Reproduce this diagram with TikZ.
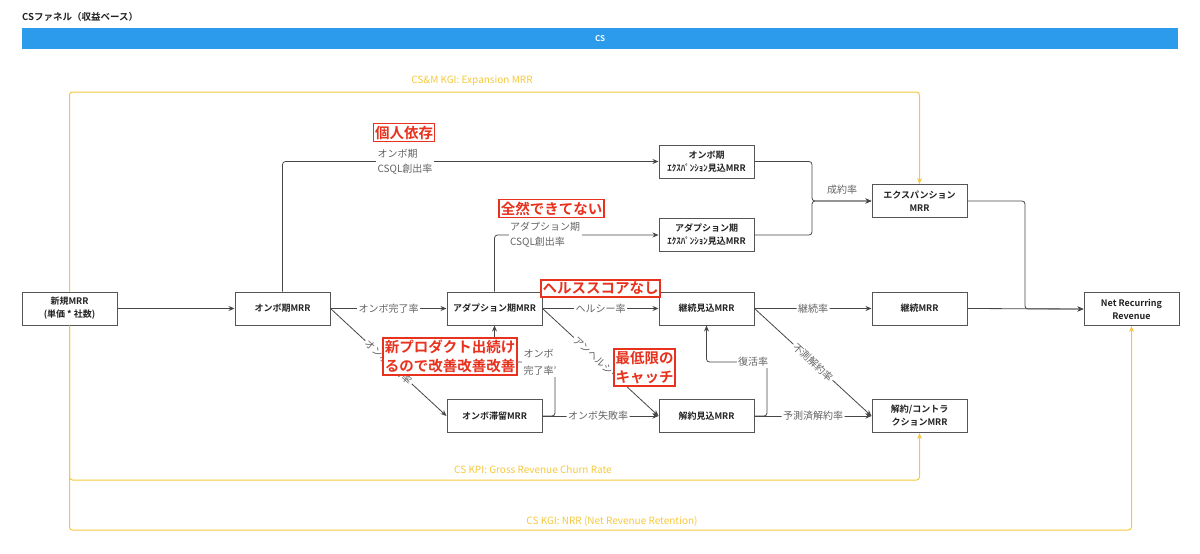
\documentclass[tikz,border=0pt]{standalone}
\usepackage{fontspec}
\setmainfont{Noto Sans CJK JP}[BoldFont={Noto Sans CJK JP Bold}]
\usetikzlibrary{arrows.meta}
\definecolor{cblue}{RGB}{45,155,235}
\definecolor{cyel}{RGB}{245,200,60}
\definecolor{cred}{RGB}{232,50,30}
\definecolor{cline}{RGB}{70,70,70}
\definecolor{cbox}{RGB}{85,85,85}
\definecolor{clab}{RGB}{100,100,100}
\definecolor{ctext}{RGB}{34,34,34}
\begin{document}
\begin{tikzpicture}[x=1pt,y=1pt,
 mrr/.style={draw=cbox, line width=1pt, fill=white, minimum width=95pt, minimum height=33pt, inner sep=1pt, align=center, font=\bfseries\fontsize{9}{13}\selectfont, text=ctext},
 conn/.style={draw=cline, line width=0.8pt, rounded corners=3pt},
 arr/.style={conn, -{Stealth[length=6pt,width=5pt]}},
 lab/.style={fill=white, inner sep=1.5pt, text=clab, font=\fontsize{10}{15}\selectfont},
 note/.style={draw=cred, line width=1.6pt, fill=white, text=cred, inner xsep=1.5pt, inner ysep=2.2pt, align=left, font=\bfseries\fontsize{14.5}{19}\selectfont},
 ylw/.style={draw=cyel, line width=1pt, rounded corners=3pt, -{Stealth[length=6pt,width=5pt]}},
 ylab/.style={text=cyel, font=\fontsize{10}{12}\selectfont, inner sep=1pt},
]
\useasboundingbox (0,0) rectangle (1200,-554);

% title and bar
\node[anchor=west, inner sep=0, text=ctext, font=\bfseries\fontsize{9.5}{11}\selectfont] (title) at (22,-17) {CSファネル（収益ベース）};
\node[fill=cblue, minimum width=1156pt, minimum height=21pt, inner sep=0, text=white, font=\bfseries\fontsize{8}{10}\selectfont] (bar) at (600,-38.5) {CS};

% nodes
\node[mrr] (shinki) at (69.5,-308.5) {新規MRR\\(単価 * 社数)};
\node[mrr] (onbo) at (282.5,-308.5) {オンボ期MRR};
\node[mrr] (adopt) at (494.5,-308.5) {アダプション期MRR};
\node[mrr] (kmikomi) at (706.5,-308.5) {継続見込MRR};
\node[mrr] (keizoku) at (919.5,-308.5) {継続MRR};
\node[mrr] (nrr) at (1131.5,-309) {Net Recurring\\Revenue};
\node[mrr] (onboexp) at (706.5,-161.5) {オンボ期\\ｴｸｽﾊﾟﾝｼｮﾝ見込MRR};
\node[mrr] (adoptexp) at (706.5,-235) {アダプション期\\ｴｸｽﾊﾟﾝｼｮﾝ見込MRR};
\node[mrr] (exp) at (919.5,-201) {エクスパンション\\MRR};
\node[mrr] (taryu) at (494.5,-416) {オンボ滞留MRR};
\node[mrr] (kymikomi) at (706.5,-416) {解約見込MRR};
\node[mrr] (kaiyaku) at (919.5,-416) {解約/コントラ\\クションMRR};

% yellow KPI lines
\draw[ylw] (shinki.north) -- (69.5,-92) -- (919.5,-92) -- (exp.north);
\draw[ylw] (shinki.south) -- (69.5,-480) -- (919.5,-480) -- (kaiyaku.south);
\draw[ylw] (shinki.south) -- (69.5,-530) -- (1131.5,-530) -- (nrr.south);
\node[ylab] (y1) at (472,-81) {CS\&M KGI: Expansion MRR};
\node[ylab] (y2) at (533,-470) {CS KPI: Gross Revenue Churn Rate};
\node[ylab] (y3) at (612,-521) {CS KGI: NRR (Net Revenue Retention)};

% connectors
\draw[arr] (shinki.east) -- (onbo.west);
\draw[arr] (onbo.east) -- node[lab]{オンボ完了率} (adopt.west);
\draw[arr] (adopt.east) -- node[lab]{ヘルシー率} (kmikomi.west);
\draw[arr] (kmikomi.east) -- node[lab]{継続率} (keizoku.west);
\draw[arr] (keizoku.east) -- (nrr.west);
\draw[arr] (exp.east) -- (1025,-201) -- (1025,-309) -- (nrr.west);

\draw[arr] (onbo.north) -- (282.5,-161.5) -- (onboexp.west);
\node[lab, align=left] (l1) at (405,-162) {オンボ期\\CSQL創出率};
\draw[arr] (adopt.north) -- (494.5,-235) -- (adoptexp.west);
\node[lab, align=left] (l2) at (545,-235) {アダプション期\\CSQL創出率};

\draw[arr] (onboexp.east) -- (812,-161.5) -- (812,-201) -- (exp.west);
\draw[arr] (adoptexp.east) -- (812,-235) -- (812,-201) -- (exp.west);
\node[text=clab, font=\fontsize{10}{12}\selectfont, inner sep=1pt] (l3) at (842,-190) {成約率};

\draw[arr] (onbo.east) -- node[lab, sloped]{オンボ滞留率} (taryu.west);
\draw[arr] (adopt.east) -- node[lab, sloped]{アンヘルシー率} (kymikomi.west);
\draw[arr] (kmikomi.east) -- node[lab, sloped]{不測解約率} (kaiyaku.west);

\draw[arr] (taryu.east) -- node[lab, pos=0.48]{オンボ失敗率} (kymikomi.west);
\draw[arr] (taryu.east) -- (555,-416) -- (555,-362) -- (494.5,-362) -- (adopt.south);
\node[lab, align=left, font=\fontsize{10}{17}\selectfont] (l4) at (540,-362) {オンボ\\完了率'};

\draw[arr] (kymikomi.east) -- node[lab]{予測済解約率} (kaiyaku.west);
\draw[arr] (kymikomi.east) -- (767,-416) -- (767,-362) -- (706.5,-362) -- (kmikomi.south);
\node[lab] (l5) at (753,-362) {復活率};

% red notes
\node[note] (n1) at (404,-132.5) {個人依存};
\node[note] (n2) at (551.5,-208.5) {全然できてない};
\node[note] (n3) at (600.5,-288.5) {ヘルススコアなし};
\node[note] (n4) at (450,-356.5) {新プロダクト出続け\\るので改善改善改善};
\node[note] (n5) at (644.5,-367.5) {最低限の\\キャッチ};
\end{tikzpicture}
\end{document}
